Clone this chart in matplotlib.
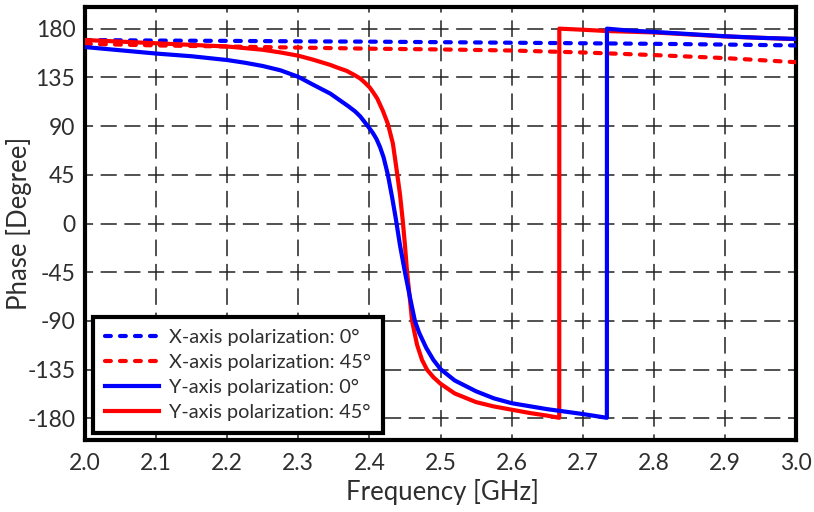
import matplotlib
matplotlib.use("Agg")
import matplotlib.pyplot as plt
from matplotlib.lines import Line2D

plt.rcParams['font.family'] = ['Lato', 'DejaVu Sans']
plt.rcParams['lines.scale_dashes'] = False

# ---- data ----
x_x0 = [2.0, 2.1, 2.2, 2.3, 2.4, 2.5, 2.6, 2.7, 2.8, 2.9, 3.0]
y_x0 = [169.5, 169, 168.7, 168.3, 168, 167.5, 167, 166.5, 166, 165.3, 164.5]

x_x45 = [2.0, 2.1, 2.2, 2.3, 2.4, 2.5, 2.6, 2.7, 2.8, 2.9, 3.0]
y_x45 = [166, 164.5, 163.5, 162.5, 161.5, 160.8, 159.8, 158, 155.6, 152.8, 149]

x_y0 = [2.0, 2.05, 2.1, 2.15, 2.2, 2.225, 2.25, 2.275, 2.3, 2.32, 2.345, 2.37,
        2.38, 2.387, 2.393, 2.40, 2.405, 2.41, 2.415, 2.42, 2.426, 2.432, 2.437,
        2.443, 2.45, 2.457, 2.464, 2.47, 2.48, 2.49, 2.50, 2.52, 2.55, 2.575,
        2.60, 2.65, 2.70, 2.734,
        2.7341, 2.76, 2.80, 2.85, 2.90, 2.95, 3.00]
y_y0 = [163, 160, 157, 154.5, 151, 148.5, 145.5, 141.5, 135.5, 128.5, 120, 108.5,
        103.5, 99, 94, 88, 83.5, 78, 70.5, 61, 45, 24, 5,
        -20, -45, -68, -90, -101, -115, -126, -134.5, -145, -155, -161.5,
        -166, -171.5, -176, -179.5,
        180, 178.5, 177, 175, 173, 171.5, 170.5]

x_y45 = [2.0, 2.05, 2.1, 2.15, 2.2, 2.25, 2.275, 2.3, 2.32, 2.345, 2.355, 2.368,
         2.378, 2.387, 2.393, 2.40, 2.405, 2.411, 2.419, 2.426, 2.433, 2.438,
         2.443, 2.447, 2.450, 2.453, 2.457, 2.460, 2.467, 2.474, 2.481, 2.49,
         2.50, 2.52, 2.55, 2.575, 2.60, 2.625, 2.65, 2.667,
         2.6671, 2.70, 2.734, 2.80, 2.90, 3.00]
y_y45 = [169.5, 168, 166.5, 165, 163.5, 160.5, 158, 155, 151.5, 146.5, 144, 141,
         137.5, 134, 130.5, 126, 121.5, 115.5, 104, 92, 74, 51,
         27, 2, -20, -45, -70, -90, -112, -126, -135, -142,
         -148, -157, -165, -169, -172, -175, -177.5, -179.5,
         180, 179, 177.8, 176.5, 172.8, 170.3]

labels = ['X-axis polarization: 0°', 'X-axis polarization: 45°',
          'Y-axis polarization: 0°', 'Y-axis polarization: 45°']
xticks = [2.0, 2.1, 2.2, 2.3, 2.4, 2.5, 2.6, 2.7, 2.8, 2.9, 3.0]
yticks = [-180, -135, -90, -45, 0, 45, 90, 135, 180]

# ---- figure ----
W, H, DPI = 814, 512, 100
fig = plt.figure(figsize=(W / DPI, H / DPI), dpi=DPI)
L, R, T, B = 85, 796, 7, 440
ax = fig.add_axes([L / W, 1 - B / H, (R - L) / W, (B - T) / H])

ylim = (-200, 200)
ax.set_xlim(2.0, 3.0)
ax.set_ylim(*ylim)

BLUE, RED = '#0000ff', '#ff0000'
lw = 3.0
dot = (0, (4.2, 6.6))
l1, = ax.plot(x_x0, y_x0, color=BLUE, lw=lw, ls=dot, dash_capstyle='round', zorder=3)
l2, = ax.plot(x_x45, y_x45, color=RED, lw=lw, ls=dot, dash_capstyle='round', zorder=3)
l4, = ax.plot(x_y45, y_y45, color=RED, lw=lw, solid_capstyle='butt',
              solid_joinstyle='round', zorder=4)
l3, = ax.plot(x_y0, y_y0, color=BLUE, lw=lw, solid_capstyle='butt',
              solid_joinstyle='round', zorder=5)

ax.set_xticks(xticks)
ax.set_xticklabels([f'{v:.1f}' for v in xticks])
ax.set_yticks(yticks)
ax.set_yticklabels([str(v) for v in yticks])

TXT = '#2e2e2e'
ax.tick_params(length=0, labelsize=16.5, labelcolor=TXT)
ax.tick_params(axis='x', pad=9)
ax.tick_params(axis='y', pad=7)
ax.set_xlabel('Frequency [GHz]', fontsize=18.5, color=TXT)
ax.set_ylabel('Phase [Degree]', fontsize=18.5, color=TXT)
ax.xaxis.set_label_coords(0.503, -0.09)
ax.yaxis.set_label_coords(-0.074, 0.5)

for s in ax.spines.values():
    s.set_linewidth(3.0)
    s.set_color('black')

# grid, with dashes centred on tick positions
ax.grid(True, color='#222222', lw=1.1, zorder=1)
pt = 72.0 / DPI
aw, ah = (R - L), (B - T)
per_h = aw / 10 / 3 * pt            # horizontal gridlines
dash_h = 0.68 * per_h
for gl in ax.get_ygridlines():
    gl.set_linestyle((dash_h / 2, (dash_h, per_h - dash_h)))
step_v = ah / (ylim[1] - ylim[0]) * 45  # px per 45 deg
per_v = step_v / 2 * pt
dash_v = 0.68 * per_v
first = (yticks[0] - ylim[0]) / (ylim[1] - ylim[0]) * ah * pt
off_v = (dash_v / 2 - first) % per_v
for gl in ax.get_xgridlines():
    gl.set_linestyle((off_v, (dash_v, per_v - dash_v)))

handles = [Line2D([], [], color=BLUE, lw=lw, ls=dot, dash_capstyle='round'),
           Line2D([], [], color=RED, lw=lw, ls=dot, dash_capstyle='round'),
           Line2D([], [], color=BLUE, lw=lw),
           Line2D([], [], color=RED, lw=lw)]
leg = ax.legend(handles, labels, loc='lower left', bbox_to_anchor=(0.011, 0.016),
                borderaxespad=0, fancybox=False, framealpha=1, fontsize=14.3,
                handlelength=2.75, handletextpad=0.5, labelspacing=0.4,
                borderpad=0.6, labelcolor=TXT)
leg.get_frame().set_edgecolor('black')
leg.get_frame().set_linewidth(3.0)
leg.set_zorder(10)

fig.savefig('out.png', dpi=DPI)
